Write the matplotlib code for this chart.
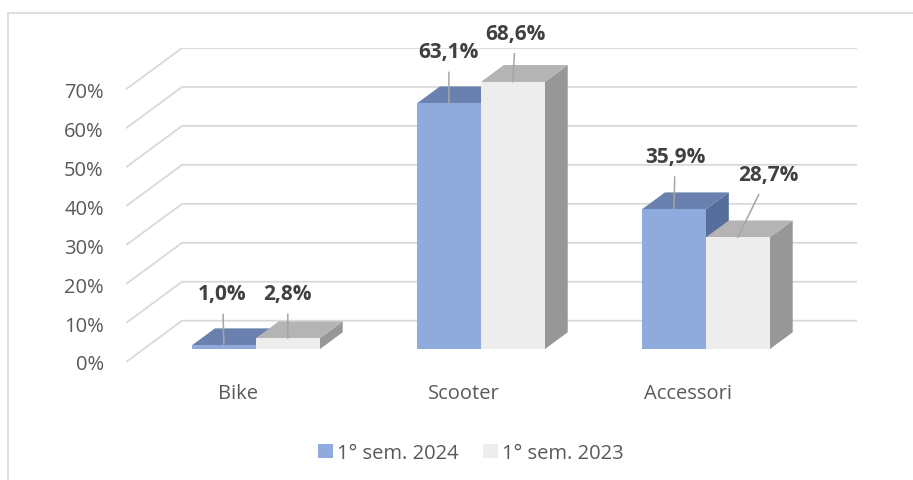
import matplotlib.pyplot as plt
from matplotlib.patches import Polygon, Patch
from matplotlib.lines import Line2D

categories = ["Bike", "Scooter", "Accessori"]
series_names = ["1° sem. 2024", "1° sem. 2023"]
values_2024 = [1.0, 63.1, 35.9]
values_2023 = [2.8, 68.6, 28.7]
y_ticks = [0, 10, 20, 30, 40, 50, 60, 70]
tick_labels = ["0%", "10%", "20%", "30%", "40%", "50%", "60%", "70%"]

plt.rcParams["font.family"] = ["Open Sans", "DejaVu Sans"]

# colours: front, top, side
blue = ("#8FAADC", "#6A80AE", "#566E9B")
grey = ("#EDEDED", "#B4B4B4", "#979797")
text_col = "#595959"
grid_col = "#D9D9D9"

# 3d look: depth offset in data units, bars between depth d0 and d1
DX, DY = 0.249, 10.6
d0, d1 = 0.31, 0.72
bar_w = 0.284

fig = plt.figure(figsize=(9.13, 4.81), dpi=100)
W, H = 913, 481
ax = fig.add_axes([126 / W, 118 / H, 731 / W, 314 / H])
ax.set_xlim(0, 3 + DX)
ax.set_ylim(0, 70 + DY)
for s in ax.spines.values():
    s.set_visible(False)


def P(x, y, d):
    return (x + d * DX, y + d * DY)


# gridlines: short oblique segment + back wall line
for v in y_ticks:
    xs = [0, DX, 3 + DX]
    ys = [v, v + DY, v + DY]
    ax.plot(xs, ys, color=grid_col, lw=1.3, zorder=1, solid_capstyle="butt")


def bar3d(x0, x1, v, cols, z):
    side = [P(x1, 0, d0), P(x1, 0, d1), P(x1, v, d1), P(x1, v, d0)]
    top = [P(x0, v, d0), P(x1, v, d0), P(x1, v, d1), P(x0, v, d1)]
    front = [P(x0, 0, d0), P(x1, 0, d0), P(x1, v, d0), P(x0, v, d0)]
    ax.add_patch(Polygon(side, closed=True, fc=cols[2], ec="none", zorder=z))
    ax.add_patch(Polygon(top, closed=True, fc=cols[1], ec="none", zorder=z))
    ax.add_patch(Polygon(front, closed=True, fc=cols[0], ec="none", zorder=z + 0.1))


# label offsets in points (dx, dy) from the top front edge centre of each bar
offs_2024 = [(-1, -37), (0, -37), (1, -38)]
offs_2023 = [(0, -32), (2, -35), (22, -45)]

z = 2
for i, cat in enumerate(categories):
    c = i + 0.5
    bar3d(c - bar_w, c, values_2024[i], blue, z)
    z += 1
    bar3d(c, c + bar_w, values_2023[i], grey, z)
    z += 1

for i in range(len(categories)):
    c = i + 0.5
    for vals, offs, xc in ((values_2024, offs_2024, c - bar_w / 2),
                           (values_2023, offs_2023, c + bar_w / 2)):
        v = vals[i]
        ax.annotate(f"{v:.1f}%".replace(".", ","), xy=P(xc, v, d0),
                    xytext=(offs[i][0], -offs[i][1]), textcoords="offset points",
                    ha="center", va="center", fontsize=15, fontweight="bold",
                    color="#404040", zorder=20,
                    arrowprops=dict(arrowstyle="-", color="#A6A6A6", lw=1.1,
                                    shrinkA=5, shrinkB=0))

ax.set_yticks(y_ticks)
ax.set_yticklabels(tick_labels)
ax.set_xticks([0.5, 1.5, 2.5])
ax.set_xticklabels(categories)
ax.tick_params(axis="both", length=0, labelsize=14.5, labelcolor=text_col)
ax.tick_params(axis="y", pad=16)
ax.tick_params(axis="x", pad=15)

handles = [Patch(fc=blue[0], ec="none"), Patch(fc=grey[0], ec="none")]
fig.legend(handles, series_names, loc="center", bbox_to_anchor=(471 / W, 1 - 454 / H),
           ncol=2, frameon=False, fontsize=14.5, labelcolor=text_col,
           handlelength=0.75, handleheight=0.75, handletextpad=0.2, columnspacing=1.2)

# chart area border (top and left only visible)
fig.add_artist(Line2D([8 / W, 1], [1 - 14 / H, 1 - 14 / H], color=grid_col, lw=1.2))
fig.add_artist(Line2D([8 / W, 8 / W], [0, 1 - 14 / H], color=grid_col, lw=1.2))

fig.savefig("out.png", dpi=100)
